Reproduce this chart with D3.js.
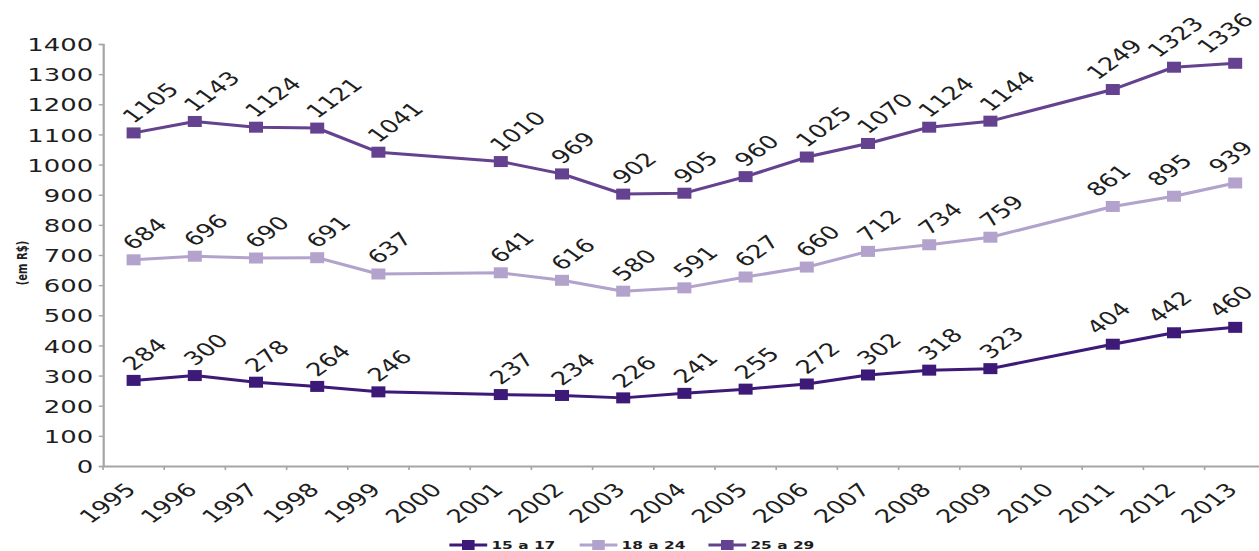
<!DOCTYPE html>
<html>
<head>
<meta charset="utf-8">
<script src="https://cdn.jsdelivr.net/npm/d3@7"></script>
<style>
  html, body { margin: 0; padding: 0; background: #fff; }
  svg { display: block; }
  text { font-family: "DejaVu Sans", Verdana, sans-serif; fill: #1e1e1e; }
</style>
</head>
<body>
<script>
// ---- data ----
const years = ["1995","1996","1997","1998","1999","2000","2001","2002","2003","2004","2005","2006","2007","2008","2009","2010","2011","2012","2013"];
const s15a17 = [284,300,278,264,246,null,237,234,226,241,255,272,302,318,323,null,404,442,460];
const s18a24 = [684,696,690,691,637,null,641,616,580,591,627,660,712,734,759,null,861,895,939];
const s25a29 = [1105,1143,1124,1121,1041,null,1010,969,902,905,960,1025,1070,1124,1144,null,1249,1323,1336];
const seriesNames = ["15 a 17","18 a 24","25 a 29"];
const seriesColors = ["#3d1a78","#b3a3cc","#65428f"];
const yTicks = [0,100,200,300,400,500,600,700,800,900,1000,1100,1200,1300,1400];
const yLabel = "(em R$)";

// ---- layout (drawn in a horizontally compressed space, then stretched) ----
const W = 1259, H = 551, SX = 1.4;
const VW = W / SX;
const series = [s15a17, s18a24, s25a29];

const svg = d3.select("body").append("svg")
  .attr("width", W).attr("height", H)
  .attr("viewBox", `0 0 ${VW} ${H}`)
  .attr("preserveAspectRatio", "none");

const x0 = 103 / SX, bw = 61.2 / SX;
const x = d3.scaleBand().domain(years).range([x0, x0 + bw * years.length]).padding(0);
const y = d3.scaleLinear().domain([0, 1400]).range([466, 44]);
const cx = d => x(d) + x.bandwidth() / 2;

// y axis
const yAxis = d3.axisLeft(y).tickValues(yTicks).tickFormat(d3.format("d")).tickSize(3).tickPadding(4);
const gy = svg.append("g").attr("transform", `translate(${x0},0)`).call(yAxis);
gy.select(".domain").attr("stroke", "#a6a6a6").attr("stroke-width", 1.6);
gy.selectAll(".tick line").attr("stroke", "#a6a6a6").attr("stroke-width", 1.4);
gy.selectAll(".tick text").attr("font-size", 18.5).attr("font-family", "DejaVu Sans").attr("fill", "#1e1e1e").attr("dy", "0.36em");

// x axis
const xAxis = d3.axisBottom(x).tickSize(0).tickFormat("");
const gx = svg.append("g").attr("transform", `translate(0,${y(0)})`).call(xAxis);
gx.select(".domain").attr("stroke", "#a6a6a6").attr("stroke-width", 2);
gx.selectAll(".bt").data(years).enter().append("line").attr("class", "bt")
  .attr("x1", d => x(d)).attr("x2", d => x(d)).attr("y1", 0).attr("y2", 4)
  .attr("stroke", "#a6a6a6").attr("stroke-width", 1.2);
gx.selectAll(".xl").data(years).enter().append("text").attr("class", "xl")
  .attr("transform", d => `translate(${cx(d) + 2.5},${25}) rotate(-45)`)
  .attr("text-anchor", "end")
  .attr("font-size", 18.5).text(d => d);

// y label
svg.append("text").attr("transform", `translate(${16},${263}) rotate(-90)`)
  .attr("text-anchor", "middle").attr("dy", "0.35em")
  .attr("font-size", 10).attr("font-weight", "bold").text(yLabel);

// series
const gapIndex = years.indexOf("2010");
const line = d3.line().x(d => cx(d.yr)).y(d => y(d.v));
const c45 = Math.SQRT1_2;
series.forEach((vals, i) => {
  const pts = years.map((yr, j) => ({ yr, j, v: vals[j] })).filter(d => d.v != null);
  const g = svg.append("g");
  g.append("path").datum(pts).attr("d", line).attr("fill", "none")
    .attr("stroke", seriesColors[i]).attr("stroke-width", 3).attr("stroke-linejoin", "round");
  g.selectAll("rect").data(pts).enter().append("rect")
    .attr("x", d => cx(d.yr) - 5).attr("y", d => y(d.v) - 5.5)
    .attr("width", 10).attr("height", 11).attr("fill", seriesColors[i]);
  g.selectAll("text").data(pts).enter().append("text")
    .attr("text-anchor", "start").attr("font-size", 18.5).text(d => d.v)
    .attr("transform", function(d) {
      let dx = d.j > gapIndex ? -11 : 0;
      const len = this.getComputedTextLength();
      const maxDx = VW - 3 - cx(d.yr) - len * c45;
      dx = Math.min(dx, maxDx);
      return `translate(${cx(d.yr) + dx},${y(d.v) - 9}) rotate(-45)`;
    });
});

// legend
const legX = [321, 414, 506];
const leg = svg.append("g").attr("transform", `translate(0,545)`);
seriesNames.forEach((n, i) => {
  const g = leg.append("g").attr("transform", `translate(${legX[i]},0)`);
  g.append("line").attr("x1", 0).attr("x2", 27).attr("y1", 0).attr("y2", 0)
    .attr("stroke", seriesColors[i]).attr("stroke-width", 3);
  g.append("rect").attr("x", 9).attr("y", -5).attr("width", 9).attr("height", 10).attr("fill", seriesColors[i]);
  g.append("text").attr("x", 30).attr("dy", "0.36em").attr("font-size", 11).attr("font-weight", "bold").text(n);
});
</script>
</body>
</html>
